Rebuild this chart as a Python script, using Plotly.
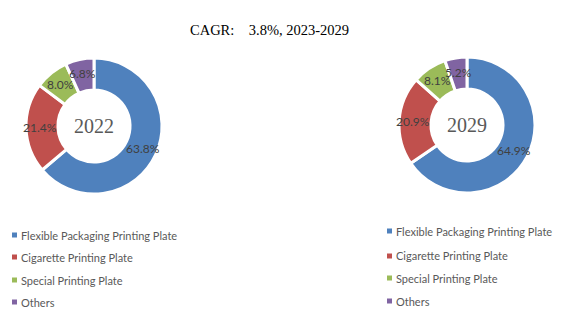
import math
import plotly.graph_objects as go

categories = ["Flexible Packaging Printing Plate", "Cigarette Printing Plate",
              "Special Printing Plate", "Others"]
share_2022 = [63.8, 21.4, 8.0, 6.8]
share_2029 = [64.9, 20.9, 8.1, 5.2]
years = ["2022", "2029"]
colors = ["#4F81BD", "#C0504D", "#9BBB59", "#8064A2"]
title_text = "CAGR:    3.8%, 2023-2029"

W, H = 567, 322
HOLE = 0.53
fig = go.Figure()

# pie centres / radii in pixels (layout only)
pies = [dict(cx=94, cy=126, r=68), dict(cx=467, cy=125, r=68)]

for vals, yr, p in zip([share_2022, share_2029], years, pies):
    dom = dict(x=[(p["cx"] - p["r"]) / W, (p["cx"] + p["r"]) / W],
               y=[1 - (p["cy"] + p["r"]) / H, 1 - (p["cy"] - p["r"]) / H])
    fig.add_trace(go.Pie(
        labels=categories, values=vals, hole=HOLE, sort=False,
        direction="clockwise", rotation=0, domain=dom,
        marker=dict(colors=colors, line=dict(color="white", width=3)),
        textinfo="none", showlegend=False, hoverinfo="label+value",
    ))
    # data labels at the middle of each ring segment
    total = sum(vals)
    cum = 0.0
    rr = p["r"] * 0.79
    for v in vals:
        ang = 2 * math.pi * (cum + v / 2) / total
        cum += v
        lx = p["cx"] + rr * math.sin(ang)
        ly = p["cy"] - rr * math.cos(ang)
        fig.add_annotation(x=lx / W, y=1 - ly / H, xref="paper", yref="paper",
                           xanchor="center", yanchor="middle",
                           text=f"{v:.1f}%", showarrow=False,
                           font=dict(family="Lato", size=12, color="#404040"))
    fig.add_annotation(
        x=p["cx"] / W, y=1 - p["cy"] / H, xanchor="center", yanchor="middle",
        xref="paper", yref="paper", text=yr, showarrow=False,
        font=dict(family="Liberation Serif", size=20, color="#595959"),
    )

fig.add_annotation(x=269 / W, y=1 - 30 / H, xref="paper", yref="paper",
                   xanchor="center", yanchor="middle",
                   text=title_text, showarrow=False,
                   font=dict(family="Liberation Serif", size=14.5, color="#000000"))

legend_specs = [
    dict(sq_x=12, txt_x=19, rows=[235, 257, 280, 302]),
    dict(sq_x=387, txt_x=394, rows=[231, 256, 278, 301]),
]
for spec in legend_specs:
    for cat, col, ry in zip(categories, colors, spec["rows"]):
        fig.add_shape(type="rect", xref="paper", yref="paper",
                      x0=spec["sq_x"] / W, x1=(spec["sq_x"] + 5) / W,
                      y0=1 - (ry + 2.5) / H, y1=1 - (ry - 2.5) / H,
                      fillcolor=col, line=dict(width=0))
        fig.add_annotation(x=spec["txt_x"] / W, y=1 - ry / H, xref="paper", yref="paper",
                           text=cat, showarrow=False, xanchor="left", yanchor="middle",
                           font=dict(family="Lato", size=11, color="#595959"))

fig.update_layout(width=W, height=H, margin=dict(l=0, r=0, t=0, b=0),
                  paper_bgcolor="white", plot_bgcolor="white")
fig.write_html("out.html")
